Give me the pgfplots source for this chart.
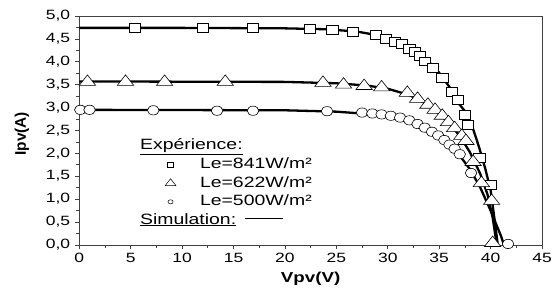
\documentclass[border=0pt]{standalone}
\usepackage{pgfplots}
\pgfplotsset{compat=1.18}
\usepackage{fontspec}
\setmainfont{Liberation Sans}[FakeStretch=1.3]
\newfontfamily\plainfont{Liberation Sans}
\begin{document}
\fontsize{15}{18}\selectfont
\begin{tikzpicture}
\begin{axis}[
  scale only axis, width=463bp, height=229bp,
  xmin=0, xmax=45, ymin=0, ymax=5,
  xtick={0,5,...,45}, ytick={0,0.5,...,5},
  minor x tick num=1, minor y tick num=1,
  tick align=outside, tick pos=left,
  major tick length=4bp, minor tick length=3bp,
  axis line style={black!75, line width=0.7pt},
  every tick/.style={black!75, line width=0.7pt},
  /pgf/number format/assume math mode=true,
  yticklabel style={/pgf/number format/.cd, use comma, fixed, fixed zerofill, precision=1},
  ticklabel style={font=\fontsize{13.5}{16}\selectfont},
  xticklabel style={yshift=1bp},
  xlabel={\textbf{Vpv(V)}}, ylabel={\plainfont\bfseries Ipv(A)},
  label style={font=\fontsize{14.5}{17}\selectfont},
  xlabel style={at={(axis description cs:0.5,-0.148)}, anchor=center},
  ylabel style={at={(axis description cs:-0.124,0.485)}, anchor=center, font=\fontsize{15.5}{18}\selectfont},
  legend style={draw=none, fill=none, at={(axis cs:7.84,1.96)}, anchor=north west,
    inner sep=2bp,
    font=\fontsize{15}{18}\selectfont, row sep=3.5bp,
    nodes={inner sep=0.5bp, text height=11bp, text depth=3bp},
    /tikz/every odd column/.append style={column sep=20.5bp}},
  legend cell align=left,
  legend image code/.code={%
    \path[draw=none, fill=none] (0bp,-5bp) (17bp,5bp);
    \draw[#1] plot coordinates {(8.5bp,0bp)};},
]
% simulation curves
\addplot[black, line width=2.3bp, forget plot] coordinates {
(0,4.74)(10,4.74)(20,4.73)(24,4.71)(27,4.66)(29,4.58)(30.5,4.49)(32,4.33)(33,4.19)(34,4.00)(35,3.76)(36,3.45)(36.8,3.12)(37.5,2.92)(38.2,2.6)(38.9,2.12)(39.5,1.65)(40.0,1.2)(40.3,0.7)(40.7,0.0)};
\addplot[black, line width=2.3bp, forget plot] coordinates {
(0,3.57)(20,3.56)(25,3.53)(28,3.48)(30,3.41)(32,3.28)(33,3.18)(34,3.04)(35,2.87)(36,2.65)(37,2.38)(38,2.02)(39,1.55)(39.7,1.1)(40.2,0.6)(40.6,0)};
\addplot[black, line width=2.3bp, forget plot] coordinates {
(0,2.95)(20,2.94)(25,2.91)(28,2.86)(30,2.80)(31,2.75)(32,2.69)(33,2.60)(34,2.49)(35,2.35)(36,2.17)(37,1.95)(38,1.65)(39,1.25)(40,0.75)(41,0.2)(41.3,0)};
% experimental markers
\addplot[only marks, mark=square*, mark size=5.6bp, mark options={fill=white, draw=black, line width=0.6pt, yscale=0.8}, forget plot] coordinates {
(5.4,4.74)(12.0,4.74)(16.9,4.74)(22.4,4.72)(24.6,4.70)(26.6,4.66)(28.8,4.58)(29.8,4.51)(30.7,4.44)(31.4,4.39)(32.1,4.29)(32.6,4.22)(33.1,4.14)(33.6,4.01)(34.4,3.86)(35.3,3.65)(36.2,3.34)(36.8,3.17)(37.5,2.84)(37.8,2.62)(38.9,1.90)(40.0,1.31)};
\addplot[only marks, mark=triangle*, mark size=7bp, mark options={fill=white, draw=black, line width=0.6pt, xscale=1.35}, forget plot] coordinates {
(0.8,3.56)(4.5,3.56)(8.3,3.56)(14.2,3.56)(23.7,3.54)(25.7,3.50)(27.7,3.47)(29.4,3.44)(31.9,3.32)(32.9,3.19)(33.9,3.06)(34.6,2.95)(35.3,2.82)(35.9,2.68)(36.5,2.55)(37.2,2.38)(37.6,2.27)(38.3,1.81)(39.1,1.35)(40.1,0.96)(40.2,0.04)};
\addplot[only marks, mark=*, mark size=5.8bp, mark options={fill=white, draw=black, line width=0.6pt, yscale=0.8}, forget plot] coordinates {
(0.1,2.95)(1.0,2.95)(7.2,2.94)(13.4,2.93)(16.9,2.93)(24.1,2.92)(27.5,2.89)(28.5,2.87)(29.4,2.85)(30.3,2.82)(31.2,2.78)(32.1,2.72)(32.9,2.64)(33.6,2.56)(34.3,2.47)(34.9,2.39)(35.5,2.29)(36.0,2.19)(36.5,2.10)(37.0,1.98)(38.1,1.57)(41.7,0.02)};
% legend entries
\addlegendimage{only marks, mark=square, mark size=3bp, black, line width=0.5pt, mark options={yscale=0.8}}
\addlegendentry{Le=841W/m²}
\addlegendimage{only marks, mark=triangle, mark size=4.6bp, black, line width=0.5pt, mark options={xscale=1.35}}
\addlegendentry{Le=622W/m²}
\addlegendimage{only marks, mark=o, mark size=2.6bp, black, line width=0.5pt, mark options={yscale=0.8}}
\addlegendentry{Le=500W/m²}
\node[anchor=west, inner sep=0pt] at (axis cs:5.9,2.14) {\underline{Expérience:}};
\node[anchor=west, inner sep=0pt] at (axis cs:5.9,0.55) {\underline{Simulation:}\hspace{9bp}\rule[0.33em]{38bp}{0.7pt}};
\end{axis}
\path (current axis.south west) ++(-79.3bp,-43bp);
\path (current axis.north east) ++(17bp,16bp);
\end{tikzpicture}
\end{document}
